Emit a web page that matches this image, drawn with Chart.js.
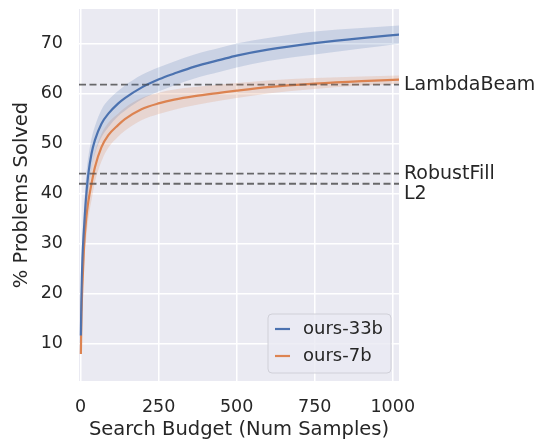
<!DOCTYPE html>
<html>
<head>
<meta charset="utf-8">
<script src="https://cdn.jsdelivr.net/npm/chart.js@4/dist/chart.umd.min.js"></script>
<style>
  html, body { margin: 0; padding: 0; background: #fff; }
  #wrap { width: 542px; height: 443px; }
</style>
</head>
<body>
<div id="wrap"><canvas id="chart"></canvas></div>
<script>
// samples (x) and % solved, with the shaded band
const bigX    = [1, 3, 6, 10, 15, 20, 25, 35, 46, 67, 89, 120, 142, 195, 253, 300, 365, 450, 500, 600, 750, 900, 1024];
const bigMean = [11.7, 20, 27, 32, 37, 41, 44, 48, 50.7, 54, 56, 58, 59.1, 61.2, 62.9, 64, 65.4, 66.8, 67.6, 68.8, 70.1, 71.1, 71.8];
const bigHigh = [13, 23, 31, 36, 41, 45, 47.5, 51, 53.5, 56.8, 58.7, 60.5, 61.6, 63.7, 65.3, 66.4, 67.8, 69.2, 70, 71.1, 72.4, 73.1, 73.6];
const bigLow  = [10.5, 17, 23.5, 28.5, 33.5, 37.5, 40.5, 45, 48, 51.3, 53.3, 55.5, 56.6, 58.8, 60.5, 61.6, 63, 64.4, 65.2, 66.5, 67.8, 69, 70];

const smallX    = [1, 3, 6, 11, 18, 25, 36, 46, 67, 89, 120, 142, 195, 253, 300, 365, 450, 500, 600, 750, 900, 1024];
const smallMean = [8, 16, 22, 29.3, 35, 38.5, 42.3, 45.3, 49.3, 51.7, 53.7, 54.9, 56.9, 58.1, 58.8, 59.5, 60.2, 60.6, 61.3, 62, 62.5, 62.8];
const smallHigh = [9.5, 19, 25.5, 33, 39, 42, 45.5, 48.3, 52, 54.2, 56, 57.2, 59.1, 60.2, 60.8, 61.3, 61.8, 62.1, 62.6, 63.1, 63.4, 63.6];
const smallLow  = [6, 13, 18.5, 25.5, 31, 35, 39, 42.3, 46.5, 49.2, 51.4, 52.6, 54.7, 56, 56.8, 57.7, 58.6, 59.1, 60, 60.9, 61.6, 62];

const seriesNames = ['ours-33b', 'ours-7b'];
const baselineNames = ['LambdaBeam', 'RobustFill', 'L2'];
const baselineValues = [61.8, 44, 42];

const xTicks = [0, 250, 500, 750, 1000];
const yTicks = [10, 20, 30, 40, 50, 60, 70];

const BLUE = '#4C72B0';
const ORANGE = '#DD8452';
const FONT = '"DejaVu Sans", sans-serif';
const XMIN = -5, XMAX = 1020;

function pts(xs, ys) {
    return xs.map((x, i) => ({ x: x, y: ys[i] }));
}

const datasets = [
    { data: pts(bigX, bigHigh), borderWidth: 0, pointRadius: 0, fill: false, cubicInterpolationMode: 'monotone' },
    { data: pts(bigX, bigLow), borderWidth: 0, pointRadius: 0, fill: '-1', backgroundColor: 'rgba(76,114,176,0.2)', cubicInterpolationMode: 'monotone' },
    { data: pts(smallX, smallHigh), borderWidth: 0, pointRadius: 0, fill: false, cubicInterpolationMode: 'monotone' },
    { data: pts(smallX, smallLow), borderWidth: 0, pointRadius: 0, fill: '-1', backgroundColor: 'rgba(221,132,82,0.2)', cubicInterpolationMode: 'monotone' }
];

baselineValues.forEach(v => {
    datasets.push({
        data: [{ x: XMIN, y: v }, { x: XMAX, y: v }],
        borderColor: 'rgba(70,70,70,0.8)', borderWidth: 1.8, borderDash: [7, 3.5],
        pointRadius: 0, fill: false
    });
});

datasets.push({ label: seriesNames[0], data: pts(bigX, bigMean), borderColor: BLUE, borderWidth: 2.2, pointRadius: 0, fill: false, cubicInterpolationMode: 'monotone' });
datasets.push({ label: seriesNames[1], data: pts(smallX, smallMean), borderColor: ORANGE, borderWidth: 2.2, pointRadius: 0, fill: false, cubicInterpolationMode: 'monotone' });

const decorPlugin = {
    id: 'decor',
    beforeDraw(chart) {
        const a = chart.chartArea, ctx = chart.ctx;
        ctx.save();
        ctx.fillStyle = '#EAEAF2';
        ctx.fillRect(a.left, a.top, a.right - a.left, a.bottom - a.top);
        ctx.restore();
    },
    afterDraw(chart) {
        const a = chart.chartArea, ctx = chart.ctx;
        const ys = chart.scales.y;
        ctx.save();
        ctx.font = '19px ' + FONT;
        ctx.fillStyle = '#262626';
        ctx.textAlign = 'left';
        baselineNames.forEach((name, i) => {
            const py = ys.getPixelForValue(baselineValues[i]);
            if (name === 'L2') {
                ctx.textBaseline = 'top';
                ctx.fillText(name, a.right + 5, py + 1);
            } else {
                ctx.textBaseline = 'middle';
                ctx.fillText(name, a.right + 5, py);
            }
        });

        // legend box, lower right
        const bx = 268, by = 314, bw = 123, bh = 59;
        ctx.beginPath();
        ctx.roundRect(bx, by, bw, bh, 4);
        ctx.fillStyle = 'rgba(234,234,242,0.8)';
        ctx.fill();
        ctx.strokeStyle = '#d0d0d8';
        ctx.lineWidth = 1;
        ctx.stroke();
        ctx.font = '18px ' + FONT;
        [BLUE, ORANGE].forEach((c, i) => {
            const ly = by + 15 + i * 27;
            ctx.beginPath();
            ctx.moveTo(bx + 7, ly);
            ctx.lineTo(bx + 22, ly);
            ctx.strokeStyle = c;
            ctx.lineWidth = 2.2;
            ctx.stroke();
            ctx.fillStyle = '#262626';
            ctx.textBaseline = 'middle';
            ctx.fillText(seriesNames[i], bx + 35, ly);
        });
        ctx.restore();
    }
};

new Chart(document.getElementById('chart'), {
    type: 'line',
    data: { datasets: datasets },
    options: {
        responsive: true,
        maintainAspectRatio: false,
        animation: false,
        layout: { padding: { left: 0, right: 143, top: 9, bottom: 0 } },
        plugins: { legend: { display: false }, tooltip: { enabled: false } },
        scales: {
            x: {
                type: 'linear', min: XMIN, max: XMAX,
                afterBuildTicks: s => { s.ticks = xTicks.map(v => ({ value: v })); },
                afterFit: s => { s.height = 62; s.paddingLeft = 0; s.paddingRight = 0; },
                grid: { color: '#ffffff', lineWidth: 1.5, drawTicks: false },
                border: { display: false },
                ticks: { color: '#262626', font: { family: FONT, size: 17.5 }, padding: 16, maxRotation: 0, callback: v => String(v) },
                title: { display: true, text: 'Search Budget (Num Samples)', color: '#262626', font: { family: FONT, size: 19.5 }, padding: { top: 0, bottom: 1 } }
            },
            y: {
                min: 2.6, max: 76.9,
                afterBuildTicks: s => { s.ticks = yTicks.map(v => ({ value: v })); },
                afterFit: s => { s.width = 79; s.paddingTop = 0; s.paddingBottom = 0; },
                grid: { color: '#ffffff', lineWidth: 1.5, drawTicks: false },
                border: { display: false },
                ticks: { color: '#262626', font: { family: FONT, size: 17.5 }, padding: 16 },
                title: { display: true, text: '% Problems Solved', color: '#262626', font: { family: FONT, size: 19.5 }, padding: { top: 10, bottom: 0 } }
            }
        }
    },
    plugins: [decorPlugin]
});
</script>
</body>
</html>
